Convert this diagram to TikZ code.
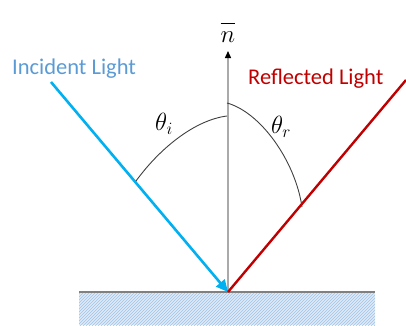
\documentclass[tikz,border=0pt]{standalone}
\usepackage{fontspec}
\newfontfamily\labelfont{Carlito}
\usetikzlibrary{arrows.meta,patterns}
\definecolor{incblue}{RGB}{0,176,240}
\definecolor{inctext}{RGB}{91,155,213}
\definecolor{refred}{RGB}{192,0,0}
\definecolor{surfgray}{RGB}{128,128,128}
\definecolor{normgray}{RGB}{170,170,170}
\definecolor{hatchbg}{RGB}{222,234,247}
\definecolor{hatchfg}{RGB}{160,195,230}
\tikzset{
  raylabel/.style={font=\labelfont\fontsize{22.5}{22.5}\selectfont, anchor=base west, inner sep=0pt},
  anglabel/.style={font=\fontsize{26}{26}\selectfont, inner sep=0pt},
  anglearc/.style={draw=black!75, line width=0.9pt},
}
\begin{document}
\begin{tikzpicture}[x=1pt,y=-1pt]
\useasboundingbox (0,0) rectangle (406,325);
% surface
\fill[hatchbg] (79,293) rectangle (375,325);
\fill[pattern=north east lines, pattern color=hatchfg] (79,293) rectangle (375,325);
\draw[surfgray, line width=2.8pt] (79,292) -- (375,292);
% points
\coordinate (P) at (228,292);
\coordinate (A) at (51,82);
\coordinate (B) at (406,80);
\coordinate (N) at (228,51);
% normal
\draw[normgray, line width=1.4pt, -{Triangle[length=7pt,width=6pt,black]}] (P) -- (N);
\node[font=\fontsize{34}{34}\selectfont, inner sep=0pt, anchor=base] (nlab) at (228,42) {$\overline{\vphantom{l}n}$};
% rays
\draw[incblue, line width=2.6pt, -{Triangle[length=12pt,width=11pt]}] (A) -- (P);
\draw[refred, line width=2.4pt] (P) -- (B);
% labels
\node[raylabel, text=inctext] (inc) at (12,74) {Incident Light};
\node[raylabel, text=refred] (ref) at (248,84) {Reflected Light};
% arcs
\draw[anglearc] (136,181) .. controls (160,148) and (195,120) .. (227,116);
\draw[anglearc] (227,103) .. controls (260,112) and (295,160) .. (302,207);
\node[anglabel] (thi) at (164,124) {$\theta_i$};
\node[anglabel] (thr) at (281,127) {$\theta_r$};
\end{tikzpicture}
\end{document}
